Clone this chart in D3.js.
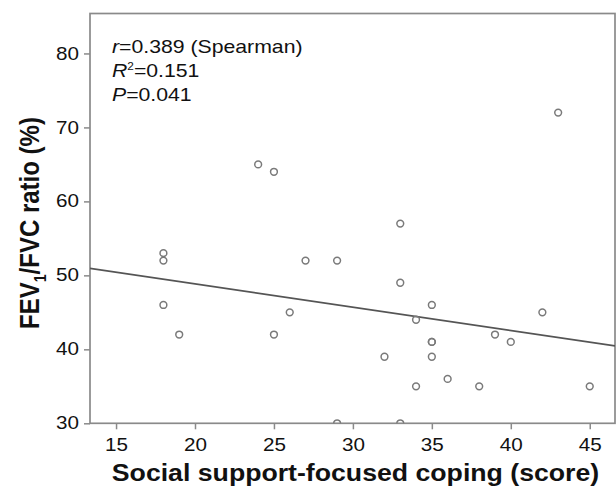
<!DOCTYPE html>
<html>
<head>
<meta charset="utf-8">
<script src="https://cdn.jsdelivr.net/npm/d3@7/dist/d3.min.js"></script>
<style>
  html, body { margin: 0; padding: 0; background: #fff; }
  svg { display: block; }
  text { font-family: "Liberation Sans", Arial, sans-serif; }
</style>
</head>
<body>
<svg id="chart" width="616" height="489"></svg>
<script>
// ---- data ----
const scores = [43, 24, 25, 33, 18, 18, 27, 29, 33, 18, 35, 26, 42, 34, 19, 25, 39, 35, 35, 40, 32, 35, 36, 34, 38, 45, 29, 33];
const fevRatio = [72, 65, 64, 57, 53, 52, 52, 52, 49, 46, 46, 45, 45, 44, 42, 42, 42, 41, 41, 41, 39, 39, 36, 35, 35, 35, 30, 30];
const xTicks = [15, 20, 25, 30, 35, 40, 45];
const yTicks = [30, 40, 50, 60, 70, 80];
const xDomain = [13.35, 46.6];
const yDomain = [30, 85.4];
const fitLine = { intercept: 55.15, slope: -0.315 };
const annotation = ["r", "=0.389 (Spearman)", "R", "2", "=0.151", "P", "=0.041"];
const xTitle = "Social support-focused coping (score)";

// ---- layout ----
const mLeft = 90, mRight = 615, mTop = 13.5, mBottom = 423.3;
const stretch = 1.18;   // the original figure is widened horizontally
const svg = d3.select("#chart");

const x = d3.scaleLinear().domain(xDomain).range([mLeft, mRight]);
const y = d3.scaleLinear().domain(yDomain).range([mBottom, mTop]);

const frameColor = "#8a8a8a";

svg.append("clipPath").attr("id", "plotclip")
  .append("rect").attr("x", mLeft).attr("y", mTop).attr("width", mRight - mLeft).attr("height", mBottom - mTop);

// frame
svg.append("rect")
  .attr("x", mLeft).attr("y", mTop)
  .attr("width", mRight - mLeft).attr("height", mBottom - mTop)
  .attr("fill", "none").attr("stroke", frameColor).attr("stroke-width", 1.7);

// x axis
const xAxis = svg.append("g")
  .attr("transform", `translate(0,${mBottom})`)
  .call(d3.axisBottom(x).tickValues(xTicks).tickSize(6).tickPadding(9).tickFormat(d3.format("d")));
xAxis.select(".domain").remove();
xAxis.selectAll(".tick line").attr("stroke", frameColor).attr("stroke-width", 1.5);
xAxis.selectAll(".tick text").attr("font-size", 17.5).attr("fill", "#111")
  .attr("font-family", "'Liberation Sans', Arial, sans-serif")
  .attr("transform", `scale(${stretch},1)`);

// y axis
const yAxis = svg.append("g")
  .attr("transform", `translate(${mLeft},0)`)
  .call(d3.axisLeft(y).tickValues(yTicks).tickSize(6).tickPadding(3.3).tickFormat(d3.format("d")));
yAxis.select(".domain").remove();
yAxis.selectAll(".tick line").attr("stroke", frameColor).attr("stroke-width", 1.5);
yAxis.selectAll(".tick text").attr("font-size", 17.5).attr("fill", "#111")
  .attr("font-family", "'Liberation Sans', Arial, sans-serif")
  .attr("transform", `scale(${stretch},1)`);

// regression line
const fit = v => fitLine.intercept + fitLine.slope * v;
svg.append("line")
  .attr("clip-path", "url(#plotclip)")
  .attr("x1", x(xDomain[0])).attr("y1", y(fit(xDomain[0])))
  .attr("x2", x(xDomain[1])).attr("y2", y(fit(xDomain[1])))
  .attr("stroke", "#555").attr("stroke-width", 1.7);

// points
const pts = scores.map((s, i) => ({ s, v: fevRatio[i] }));
svg.append("g").attr("clip-path", "url(#plotclip)")
  .selectAll("circle").data(pts).join("circle")
  .attr("cx", d => x(d.s)).attr("cy", d => y(d.v))
  .attr("r", 3.4)
  .attr("fill", "none").attr("stroke", "#7a7a7a").attr("stroke-width", 1.5);

// annotation
const ann = svg.append("g")
  .attr("transform", `translate(112,0) scale(${stretch},1)`)
  .attr("font-size", 18).attr("fill", "#111");
const t1 = ann.append("text").attr("x", 0).attr("y", 53.5);
t1.append("tspan").attr("font-style", "italic").text(annotation[0]);
t1.append("tspan").text(annotation[1]);
const t2 = ann.append("text").attr("x", 0).attr("y", 77.5);
t2.append("tspan").attr("font-style", "italic").text(annotation[2]);
t2.append("tspan").attr("font-size", 10).attr("dy", -7).text(annotation[3]);
t2.append("tspan").attr("dy", 7).text(annotation[4]);
const t3 = ann.append("text").attr("x", 0).attr("y", 101.5);
t3.append("tspan").attr("font-style", "italic").text(annotation[5]);
t3.append("tspan").text(annotation[6]);

// x title
svg.append("text")
  .attr("transform", `translate(355.5,481) scale(1.16,1)`)
  .attr("text-anchor", "middle")
  .attr("font-size", 23).attr("font-weight", "bold").attr("fill", "#111")
  .text(xTitle);

// y title
const yt = svg.append("text")
  .attr("transform", "translate(39,223) scale(1.16,1) rotate(-90)")
  .attr("text-anchor", "middle")
  .attr("font-size", 24).attr("font-weight", "bold").attr("fill", "#111");
yt.append("tspan").text("FEV");
yt.append("tspan").attr("font-size", 14).attr("dy", 6).text("1");
yt.append("tspan").attr("dy", -6).text("/FVC ratio (%)");
</script>
</body>
</html>
